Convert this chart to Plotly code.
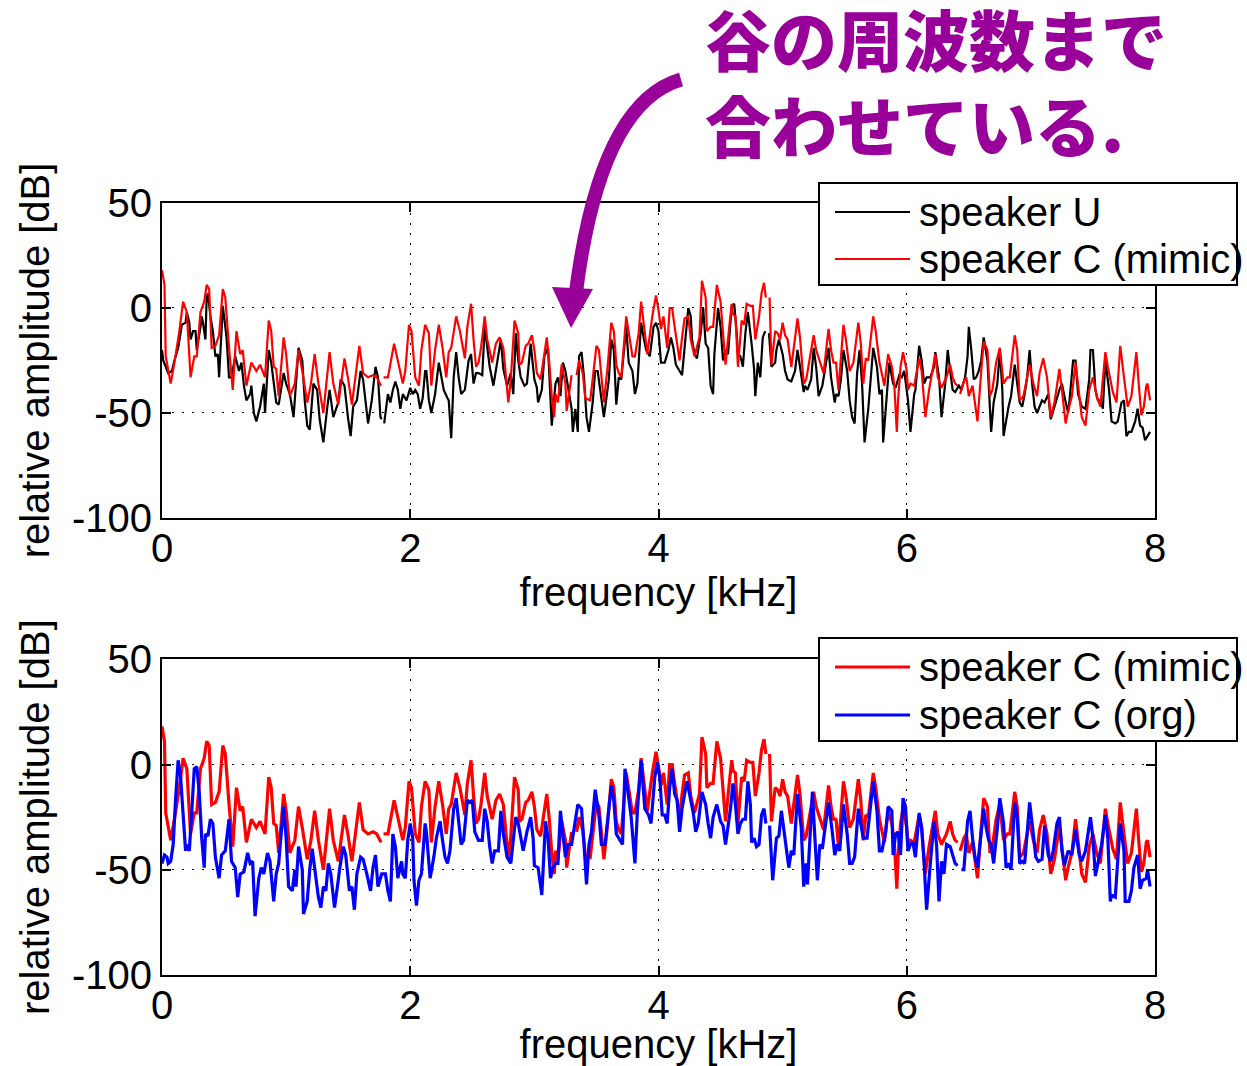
import plotly.graph_objects as go

# ---- spectra: (frequency [kHz], relative amplitude [dB]); None marks a break in the curve ----
speaker_c_mimic = [
    (0.00, 18), (0.02, 11), (0.03, -23), (0.07, -36), (0.10, -26), (0.14, -11), (0.17, 3), (0.20, -2),
    (0.23, -33), (0.26, -23), (0.28, -23), (0.31, -2), (0.34, 3), (0.36, 11), (0.38, 9), (0.40, -19),
    (0.43, -18), (0.46, -13), (0.49, 9), (0.51, 5), (0.54, -19), (0.57, -39), (0.60, -11), (0.63, -22),
    (0.65, -20), (0.68, -37), (0.72, -26), (0.76, -30), (0.79, -27), (0.83, -33), (0.86, -6), (0.88, -11),
    (0.90, -28), (0.92, -29), (0.94, -42), (0.98, -14), (1.00, -22), (1.03, -42), (1.07, -36), (1.10, -20),
    (1.13, -30), (1.17, -45), (1.20, -36), (1.23, -22), (1.26, -36), (1.30, -50), (1.35, -21), (1.38, -36),
    (1.42, -46), (1.47, -24), (1.50, -34), (1.53, -46), (1.59, -18), (1.62, -31), (1.66, -33), (1.70, -32),
    (1.73, -33), (1.765, -37), (1.775, None), (1.785, -33), (1.82, -33), (1.87, -17), (1.90, -25), (1.94, -36),
    (1.96, -30), (1.99, -8), (2.01, -11), (2.04, -33), (2.07, -37), (2.09, -20), (2.12, -8), (2.15, -12),
    (2.17, -37), (2.20, -20), (2.23, -8), (2.26, -19), (2.29, -33), (2.31, -21), (2.33, -19), (2.37, -4),
    (2.40, -11), (2.44, -24), (2.46, -9), (2.49, 2), (2.51, -15), (2.53, -28), (2.55, -26), (2.57, -19),
    (2.60, -4), (2.62, -15), (2.66, -26), (2.69, -17), (2.72, -14), (2.75, -19), (2.79, -45), (2.81, -34),
    (2.84, -6), (2.87, -12), (2.88, -27), (2.90, -26), (2.93, -18), (2.95, -17), (2.98, -13), (3.00, -20),
    (3.02, -31), (3.05, -34), (3.07, -26), (3.10, -14), (3.12, -26), (3.14, -42), (3.16, -52), (3.17, -41),
    (3.19, -45), (3.22, -27), (3.25, -36), (3.26, -49), (3.30, -32), (3.32, None), (3.34, -32), (3.36, -25),
    (3.39, -31), (3.41, -43), (3.45, -44), (3.47, -34), (3.50, -18), (3.52, -20), (3.54, -33), (3.56, -45),
    (3.59, -28), (3.62, -7), (3.64, -11), (3.66, -27), (3.68, -31), (3.70, -33), (3.74, -4), (3.76, -11),
    (3.79, -23), (3.81, -23), (3.84, -12), (3.86, 3), (3.89, -11), (3.91, -22), (3.95, -4), (3.98, 6),
    (4.00, -1), (4.02, -10), (4.04, -4), (4.07, -19), (4.09, 0), (4.11, 0), (4.13, -9), (4.17, -25),
    (4.19, -14), (4.21, -5), (4.24, -4), (4.26, -15), (4.29, -23), (4.33, -14), (4.35, 13), (4.38, 5),
    (4.39, -11), (4.42, -9), (4.44, -9), (4.47, 11), (4.50, 3), (4.52, -11), (4.54, -27), (4.57, -9),
    (4.59, 2), (4.60, -3), (4.62, -4), (4.64, -28), (4.67, -6), (4.69, -8), (4.71, 2), (4.74, 1),
    (4.76, 1), (4.78, -15), (4.81, -4), (4.83, 7), (4.85, 12), (4.865, 5), (4.88, None), (4.895, 5),
    (4.91, -27), (4.94, -11), (4.96, -12), (4.98, -15), (5.00, -7), (5.02, -13), (5.04, -15), (5.07, -28),
    (5.10, -15), (5.12, -5), (5.14, -14), (5.17, -36), (5.19, -34), (5.22, -23), (5.25, -13), (5.27, -20),
    (5.30, -26), (5.33, -31), (5.37, -10), (5.39, -20), (5.41, -26), (5.43, -26), (5.45, -39), (5.49, -8),
    (5.51, -15), (5.54, -30), (5.57, -26), (5.61, -7), (5.63, -17), (5.65, -36), (5.67, -24), (5.69, -25),
    (5.73, -4), (5.75, -11), (5.78, -26), (5.82, -37), (5.85, -22), (5.88, -28), (5.90, -37), (5.92, -59),
    (5.93, -44), (5.95, -28), (5.97, -21), (6.00, -30), (6.01, -39), (6.03, -36), (6.06, -37), (6.10, -24),
    (6.12, -30), (6.15, -52), (6.18, -39), (6.21, -29), (6.23, -22), (6.25, -33), (6.28, -38), (6.32, -33),
    (6.35, -27), (6.37, -33), (6.39, -36), (6.41, -37), (6.42, None), (6.43, -41), (6.46, -35), (6.48, -33),
    (6.50, -42), (6.53, -37), (6.57, -54), (6.60, -30), (6.62, -16), (6.65, -20), (6.67, -42), (6.69, -39),
    (6.72, -26), (6.75, -19), (6.78, -36), (6.81, -33), (6.83, -33), (6.87, -13), (6.89, -20), (6.91, -44),
    (6.94, -42), (6.97, -33), (6.99, -27), (7.02, -36), (7.05, -42), (7.07, -31), (7.10, -24), (7.13, -33),
    (7.16, -52), (7.19, -45), (7.23, -29), (7.25, -39), (7.28, -55), (7.30, -49), (7.33, -42), (7.36, -26),
    (7.38, -36), (7.41, -52), (7.44, -56), (7.47, -39), (7.50, -33), (7.53, -42), (7.56, -47), (7.60, -21),
    (7.62, -28), (7.66, -40), (7.69, -45), (7.72, -18), (7.75, -33), (7.78, -47), (7.81, -42), (7.85, -21),
    (7.87, -37), (7.89, -51), (7.91, -47), (7.93, -37), (7.94, -36), (7.96, -44),
]

speaker_u = [
    (0.00, -20), (0.01, -25), (0.05, -31), (0.08, -30), (0.10, -25), (0.13, -19), (0.16, -8), (0.19, -7),
    (0.20, -2), (0.22, -7), (0.23, -15), (0.25, -11), (0.27, -11), (0.28, -20), (0.31, -9), (0.32, -4),
    (0.33, -7), (0.35, -15), (0.36, 5), (0.37, 7), (0.39, -4), (0.41, -11), (0.43, -23), (0.45, -22),
    (0.46, -33), (0.48, -6), (0.49, 1), (0.52, -14), (0.54, -33), (0.56, -33), (0.59, -23), (0.62, -30),
    (0.64, -26), (0.66, -37), (0.68, -44), (0.71, -41), (0.72, -37), (0.74, -50), (0.76, -54), (0.79, -47),
    (0.82, -36), (0.83, -50), (0.86, -20), (0.88, -26), (0.90, -36), (0.92, -45), (0.94, -46), (0.98, -31),
    (1.00, -36), (1.03, -41), (1.06, -52), (1.09, -23), (1.10, -19), (1.13, -25), (1.15, -44), (1.17, -56),
    (1.19, -58), (1.22, -36), (1.25, -39), (1.27, -53), (1.30, -64), (1.33, -48), (1.35, -39), (1.38, -52),
    (1.42, -45), (1.44, -34), (1.47, -37), (1.50, -53), (1.52, -61), (1.54, -47), (1.57, -44), (1.60, -30),
    (1.62, -34), (1.66, -55), (1.68, -48), (1.69, -44), (1.72, -28), (1.74, -33), (1.76, -52), (1.77, -53),
    (1.78, None), (1.79, -55), (1.82, -41), (1.84, -45), (1.86, -39), (1.88, -35), (1.90, -39), (1.92, -48),
    (1.94, -41), (1.97, -44), (2.00, -38), (2.02, -41), (2.04, -39), (2.06, -41), (2.08, -48), (2.10, -43),
    (2.12, -30), (2.13, -30), (2.15, -44), (2.17, -50), (2.20, -41), (2.23, -26), (2.25, -33), (2.27, -39),
    (2.30, -43), (2.31, -44), (2.33, -62), (2.35, -33), (2.37, -21), (2.39, -33), (2.41, -41), (2.44, -39),
    (2.47, -25), (2.49, -22), (2.51, -36), (2.53, -31), (2.55, -31), (2.58, -32), (2.60, -9), (2.62, -20),
    (2.64, -28), (2.67, -37), (2.70, -25), (2.73, -15), (2.75, -29), (2.78, -37), (2.81, -31), (2.83, -41),
    (2.85, -12), (2.87, -25), (2.89, -33), (2.92, -37), (2.94, -36), (2.97, -17), (3.00, -34), (3.02, -38),
    (3.03, -45), (3.06, -39), (3.08, -23), (3.11, -19), (3.12, -31), (3.14, -56), (3.17, -36), (3.19, -33),
    (3.21, -42), (3.23, -26), (3.25, -30), (3.28, -41), (3.30, -48), (3.31, -59), (3.33, -48), (3.35, -59),
    (3.36, -23), (3.38, -21), (3.40, -33), (3.42, -52), (3.44, -59), (3.47, -45), (3.49, -30), (3.51, -30),
    (3.54, -44), (3.56, -52), (3.60, -34), (3.62, -15), (3.64, -20), (3.66, -46), (3.68, -33), (3.70, -34),
    (3.74, -9), (3.76, -26), (3.79, -30), (3.81, -41), (3.83, -36), (3.86, -7), (3.88, -14), (3.90, -20),
    (3.93, -23), (3.96, -9), (3.98, -7), (4.00, -11), (4.02, -26), (4.05, -26), (4.08, -20), (4.10, -14),
    (4.12, -19), (4.14, -27), (4.17, -30), (4.19, -32), (4.21, -19), (4.24, 0), (4.26, -4), (4.27, -15),
    (4.29, -22), (4.31, -24), (4.34, -12), (4.36, 0), (4.38, -17), (4.40, -19), (4.42, -37), (4.44, -41),
    (4.45, -22), (4.48, 0), (4.50, -9), (4.52, -25), (4.54, -20), (4.56, -22), (4.59, 1), (4.61, 2),
    (4.63, -12), (4.64, -22), (4.66, -23), (4.68, -28), (4.70, -12), (4.72, -2), (4.75, -17), (4.77, -29),
    (4.78, -42), (4.80, -26), (4.82, -33), (4.84, -14), (4.86, -11), (4.875, None), (4.89, -12), (4.91, -28),
    (4.94, -26), (4.95, -20), (4.97, -15), (5.00, -22), (5.02, -30), (5.04, -34), (5.07, -35), (5.10, -30),
    (5.12, -20), (5.14, -28), (5.17, -40), (5.18, -37), (5.20, -39), (5.23, -34), (5.25, -19), (5.27, -28),
    (5.29, -42), (5.32, -37), (5.34, -30), (5.37, -19), (5.39, -33), (5.42, -45), (5.43, -41), (5.45, -42),
    (5.47, -34), (5.49, -20), (5.52, -30), (5.54, -44), (5.56, -52), (5.58, -55), (5.60, -31), (5.62, -20),
    (5.64, -36), (5.66, -64), (5.69, -48), (5.71, -34), (5.73, -19), (5.76, -28), (5.78, -41), (5.80, -39),
    (5.81, -64), (5.84, -41), (5.86, -26), (5.89, -36), (5.91, -38), (5.94, -32), (5.96, -33), (5.98, -30),
    (6.01, -44), (6.03, -59), (6.06, -41), (6.07, -39), (6.10, -18), (6.12, -25), (6.14, -36), (6.16, -33),
    (6.19, -33), (6.22, -28), (6.23, -21), (6.26, -33), (6.28, -52), (6.31, -36), (6.33, -20), (6.35, -30),
    (6.37, -39), (6.39, -40), (6.42, -37), (6.44, -39), (6.47, -33), (6.49, -23), (6.50, -9), (6.52, -20),
    (6.54, -34), (6.56, -33), (6.58, -30), (6.60, -25), (6.62, -14), (6.65, -25), (6.66, -39), (6.68, -59),
    (6.70, -45), (6.73, -36), (6.75, -20), (6.77, -39), (6.78, -61), (6.80, -53), (6.82, -47), (6.84, -42),
    (6.87, -27), (6.89, -36), (6.91, -45), (6.93, -47), (6.95, -41), (6.97, -33), (6.99, -20), (7.01, -36),
    (7.03, -47), (7.05, -50), (7.07, -47), (7.09, -44), (7.11, -45), (7.14, -41), (7.16, -53), (7.18, -48),
    (7.19, -47), (7.23, -39), (7.25, -36), (7.27, -42), (7.30, -50), (7.31, -45), (7.34, -25), (7.36, -25),
    (7.38, -41), (7.41, -47), (7.44, -48), (7.47, -34), (7.48, -20), (7.50, -20), (7.52, -39), (7.54, -44),
    (7.56, -44), (7.58, -48), (7.60, -25), (7.63, -39), (7.65, -54), (7.68, -55), (7.70, -54), (7.73, -45),
    (7.75, -44), (7.77, -61), (7.79, -59), (7.81, -59), (7.84, -54), (7.86, -48), (7.88, -56), (7.90, -57),
    (7.92, -63), (7.94, -61), (7.96, -59),
]

speaker_c_org = [
    (0.00, -47), (0.02, -43), (0.04, -44), (0.05, -47), (0.07, -46), (0.09, -38), (0.11, -16), (0.13, 2),
    (0.15, -6), (0.17, -22), (0.19, -41), (0.20, -38), (0.22, -41), (0.24, -22), (0.26, -2), (0.28, -1),
    (0.30, -13), (0.32, -35), (0.34, -49), (0.35, -33), (0.37, -34), (0.39, -26), (0.41, -28), (0.43, -44),
    (0.46, -54), (0.48, -43), (0.51, -41), (0.54, -26), (0.56, -46), (0.59, -49), (0.61, -63), (0.63, -52),
    (0.66, -51), (0.69, -42), (0.71, -47), (0.73, -46), (0.75, -72), (0.78, -54), (0.80, -49), (0.82, -52),
    (0.85, -42), (0.87, -46), (0.90, -65), (0.92, -52), (0.94, -47), (0.96, -33), (0.98, -20), (1.00, -35),
    (1.02, -58), (1.05, -60), (1.07, -50), (1.08, -58), (1.10, -39), (1.13, -50), (1.14, -71), (1.17, -65),
    (1.19, -50), (1.21, -40), (1.23, -49), (1.26, -63), (1.28, -68), (1.30, -58), (1.32, -60), (1.34, -47),
    (1.36, -52), (1.39, -68), (1.42, -55), (1.43, -50), (1.46, -39), (1.48, -43), (1.51, -60), (1.53, -58),
    (1.55, -69), (1.57, -52), (1.60, -44), (1.62, -45), (1.65, -52), (1.68, -60), (1.70, -49), (1.72, -43),
    (1.74, -58), (1.77, -52), (1.80, -52), (1.82, -60), (1.84, -65), (1.86, -33), (1.88, -39), (1.90, -54),
    (1.93, -46), (1.94, -52), (1.96, -54), (1.98, -36), (2.00, -28), (2.02, -35), (2.03, -55), (2.05, -67),
    (2.07, -55), (2.09, -52), (2.12, -28), (2.13, -32), (2.16, -54), (2.19, -44), (2.21, -35), (2.24, -27),
    (2.26, -36), (2.28, -44), (2.30, -47), (2.32, -41), (2.35, -21), (2.37, -16), (2.39, -27), (2.41, -38),
    (2.43, -36), (2.46, -17), (2.48, -18), (2.50, -17), (2.52, -32), (2.55, -36), (2.58, -36), (2.60, -21),
    (2.62, -27), (2.64, -39), (2.66, -47), (2.68, -41), (2.71, -41), (2.73, -22), (2.75, -33), (2.78, -44),
    (2.81, -47), (2.85, -25), (2.87, -28), (2.89, -35), (2.91, -41), (2.94, -32), (2.97, -25), (2.99, -35),
    (3.00, -48), (3.03, -49), (3.06, -62), (3.09, -27), (3.11, -35), (3.13, -54), (3.15, -49), (3.17, -47),
    (3.19, -47), (3.21, -22), (3.23, -35), (3.25, -44), (3.27, -38), (3.30, -38), (3.35, -19), (3.38, -21),
    (3.40, -38), (3.42, -57), (3.44, -38), (3.46, -32), (3.49, -12), (3.52, -24), (3.54, -38), (3.57, -38),
    (3.60, -21), (3.62, -10), (3.64, -17), (3.66, -33), (3.68, -35), (3.71, -38), (3.73, -2), (3.75, -11),
    (3.78, -25), (3.81, -47), (3.83, -22), (3.86, 2), (3.89, -21), (3.92, -24), (3.94, -28), (3.97, -6),
    (3.99, 1), (4.01, -6), (4.03, -24), (4.05, -24), (4.07, -28), (4.09, -11), (4.11, -2), (4.13, -14),
    (4.15, -17), (4.17, -32), (4.19, -21), (4.21, -14), (4.23, -8), (4.25, -14), (4.28, -23), (4.30, -32),
    (4.32, -28), (4.35, -13), (4.38, -19), (4.40, -28), (4.42, -35), (4.44, -25), (4.47, -19), (4.50, -27),
    (4.52, -29), (4.54, -38), (4.56, -30), (4.58, -21), (4.60, -9), (4.62, -19), (4.64, -33), (4.66, -28),
    (4.68, -26), (4.70, -26), (4.72, -8), (4.74, -19), (4.75, -37), (4.77, -35), (4.79, -39), (4.81, -38),
    (4.83, -24), (4.85, -21), (4.865, -28), (4.88, None), (4.895, -29), (4.92, -55), (4.95, -35), (4.97, -34),
    (4.99, -22), (5.02, -35), (5.05, -49), (5.07, -41), (5.09, -43), (5.12, -14), (5.15, -30), (5.17, -58),
    (5.19, -47), (5.20, -57), (5.22, -33), (5.24, -13), (5.26, -35), (5.28, -55), (5.30, -38), (5.32, -40),
    (5.34, -31), (5.37, -18), (5.40, -32), (5.42, -43), (5.44, -38), (5.46, -41), (5.49, -19), (5.52, -33),
    (5.54, -47), (5.56, -47), (5.58, -44), (5.61, -21), (5.62, -25), (5.65, -35), (5.68, -35), (5.71, -19),
    (5.73, -8), (5.76, -22), (5.78, -41), (5.80, -41), (5.83, -32), (5.85, -20), (5.88, -22), (5.89, -43),
    (5.91, -33), (5.93, -32), (5.95, -43), (5.97, -16), (5.99, -20), (6.01, -41), (6.03, -38), (6.05, -37),
    (6.07, -44), (6.10, -23), (6.12, -30), (6.14, -47), (6.16, -69), (6.19, -47), (6.22, -27), (6.24, -38),
    (6.26, -65), (6.28, -46), (6.30, -52), (6.32, -38), (6.35, -39), (6.37, -43), (6.39, -47), (6.41, -48),
    (6.425, None), (6.44, -50), (6.46, -50), (6.49, -27), (6.51, -22), (6.53, -35), (6.55, -44), (6.57, -49),
    (6.60, -30), (6.62, -21), (6.64, -30), (6.66, -36), (6.68, -38), (6.70, -47), (6.73, -30), (6.75, -16),
    (6.78, -28), (6.80, -49), (6.82, -47), (6.84, -50), (6.87, -18), (6.89, -25), (6.91, -47), (6.93, -46),
    (6.95, -47), (6.99, -18), (7.01, -28), (7.04, -44), (7.06, -46), (7.09, -45), (7.11, -29), (7.14, -43),
    (7.16, -46), (7.18, -41), (7.21, -28), (7.23, -25), (7.25, -41), (7.27, -48), (7.30, -41), (7.33, -43),
    (7.35, -35), (7.36, -31), (7.39, -43), (7.41, -46), (7.44, -41), (7.46, -32), (7.48, -25), (7.50, -35),
    (7.52, -53), (7.55, -44), (7.57, -38), (7.60, -24), (7.62, -35), (7.64, -65), (7.65, -62), (7.68, -63),
    (7.70, -46), (7.72, -28), (7.75, -41), (7.76, -65), (7.79, -65), (7.81, -60), (7.83, -49), (7.86, -43),
    (7.88, -59), (7.90, -55), (7.93, -54), (7.94, -50), (7.96, -58),
]

x_ticks = [0, 2, 4, 6, 8]
y_ticks = [-100, -50, 0, 50]
y_tick_labels = ["-100", "-50", "0", "50"]
legend_top = ["speaker U", "speaker C (mimic)"]
legend_bottom = ["speaker C (mimic)", "speaker C (org)"]
note_lines = ["谷の周波数まで", "合わせている."]

FONT = "Liberation Sans, Arial, sans-serif"
PURPLE = "#990099"
TXT = 40


def split(series):
    return [p[0] for p in series], [p[1] for p in series]


fig = go.Figure()

u_f, u_db = split(speaker_u)
m_f, m_db = split(speaker_c_mimic)
o_f, o_db = split(speaker_c_org)

# upper panel: speaker U against the mimicking speaker C
fig.add_trace(go.Scatter(x=u_f, y=u_db, mode="lines", line=dict(color="black", width=2.2),
                         xaxis="x", yaxis="y", name=legend_top[0]))
fig.add_trace(go.Scatter(x=m_f, y=m_db, mode="lines", line=dict(color="red", width=2.2),
                         xaxis="x", yaxis="y", name=legend_top[1]))
# lower panel: mimicking speaker C against the original speaker C
fig.add_trace(go.Scatter(x=m_f, y=m_db, mode="lines", line=dict(color="red", width=3.2),
                         xaxis="x2", yaxis="y2", name=legend_bottom[0]))
fig.add_trace(go.Scatter(x=o_f, y=o_db, mode="lines", line=dict(color="blue", width=3.2),
                         xaxis="x2", yaxis="y2", name=legend_bottom[1]))

axis_common = dict(
    showline=True, linecolor="black", linewidth=2, mirror="ticks",
    ticks="inside", ticklen=9, tickwidth=2, tickcolor="black",
    showgrid=True, gridcolor="black", gridwidth=1, griddash="2px,8px",
    zeroline=False, automargin=False,
    tickfont=dict(family=FONT, size=TXT, color="black"),
)

x_common = dict(axis_common, range=[0, 8], tickvals=x_ticks, ticklabelstandoff=-6,
                title=dict(text="frequency [kHz]", font=dict(family=FONT, size=TXT, color="black"), standoff=7))
y_common = dict(axis_common, range=[-100, 50], tickvals=y_ticks, ticktext=y_tick_labels, ticklabelstandoff=0,
                title=dict(text="relative amplitude [dB]", font=dict(family=FONT, size=TXT, color="black"),
                           standoff=10))

fig.update_layout(
    width=1247, height=1066,
    margin=dict(l=162, r=92, t=203, b=91),
    paper_bgcolor="white", plot_bgcolor="white",
    showlegend=False,
    xaxis=dict(x_common, domain=[0, 1], anchor="y"),
    yaxis=dict(y_common, domain=[0.592, 1.0], anchor="x"),
    xaxis2=dict(x_common, domain=[0, 1], anchor="y2"),
    yaxis2=dict(y_common, domain=[0.0, 0.409], anchor="x2"),
)


def px_x(px):
    return (px - 162) / 993.0


def px_y(py):
    return (975 - py) / 772.0


shapes = []
annotations = []


def add_legend(box_top, box_bottom, rows, labels, colors, width):
    shapes.append(dict(type="rect", xref="paper", yref="paper", layer="above",
                       x0=px_x(819), x1=px_x(1237), y0=px_y(box_bottom), y1=px_y(box_top),
                       line=dict(color="black", width=2), fillcolor="white"))
    for row, label, color in zip(rows, labels, colors):
        shapes.append(dict(type="line", xref="paper", yref="paper", layer="above",
                           x0=px_x(835), x1=px_x(910), y0=px_y(row), y1=px_y(row),
                           line=dict(color=color, width=width)))
        annotations.append(dict(text=label, xref="paper", yref="paper", x=px_x(917), y=px_y(row),
                                xanchor="left", yanchor="middle", showarrow=False,
                                font=dict(family=FONT, size=TXT, color="black")))


add_legend(183, 285, [212, 259], legend_top, ["black", "red"], 2)
add_legend(638, 741, [667, 715], legend_bottom, ["red", "blue"], 3)

# curved call-out arrow pointing into the upper panel
shapes.append(dict(type="path", xref="paper", yref="paper", layer="above",
                   path=f"M {px_x(681)},{px_y(79.5)} Q {px_x(600)},{px_y(103)} {px_x(576)},{px_y(292)}",
                   line=dict(color=PURPLE, width=14), fillcolor="rgba(0,0,0,0)"))
shapes.append(dict(type="path", xref="paper", yref="paper", layer="above",
                   path=(f"M {px_x(552)},{px_y(287)} L {px_x(593)},{px_y(289)} "
                         f"L {px_x(571)},{px_y(328)} Z"),
                   line=dict(width=0), fillcolor=PURPLE))

annotations.append(dict(text="<br>".join(note_lines), xref="paper", yref="paper",
                        x=px_x(703), y=px_y(80), xanchor="left", yanchor="middle", align="left",
                        showarrow=False,
                        font=dict(family="Noto Sans CJK JP", size=66, color=PURPLE, weight=900)))

fig.update_layout(shapes=shapes, annotations=annotations)

fig.write_html("out.html")
